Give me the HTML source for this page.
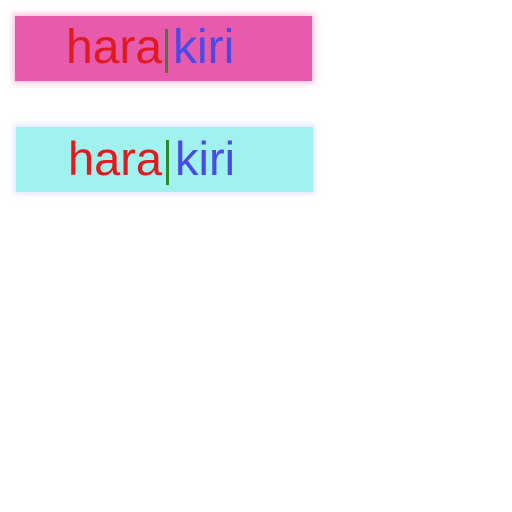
<!DOCTYPE html>
<html><head><style>
html,body{margin:0;padding:0;background:#fff;width:512px;height:512px;overflow:hidden}
.b{position:absolute;width:297px;height:65px}
.t{position:absolute;font-family:"Liberation Sans",sans-serif;line-height:1;white-space:nowrap}
.r{color:#e01a1e}.k{color:#4a4ae6}
.bar{position:absolute;width:3px;background:#2a8a2a}
</style></head><body>
<div class="b" style="left:15px;top:16px;background:#e85aac;box-shadow:0 0 6px 2px rgba(240,120,180,0.5)"></div>
<div class="b" style="left:16px;top:127px;background:#a0f2ee;box-shadow:0 0 6px 2px rgba(200,200,255,0.5)"></div>
<div class="t r" style="left:66px;top:24px;font-size:48px">hara</div>
<div class="bar" style="left:165px;top:29px;height:44px"></div>
<div class="t k" style="left:173px;top:24px;font-size:48px">kiri</div>
<div class="t r" style="left:68px;top:135px;font-size:47px">hara</div>
<div class="bar" style="left:166px;top:140px;height:45px"></div>
<div class="t k" style="left:175px;top:135px;font-size:47px">kiri</div>
</body></html>
